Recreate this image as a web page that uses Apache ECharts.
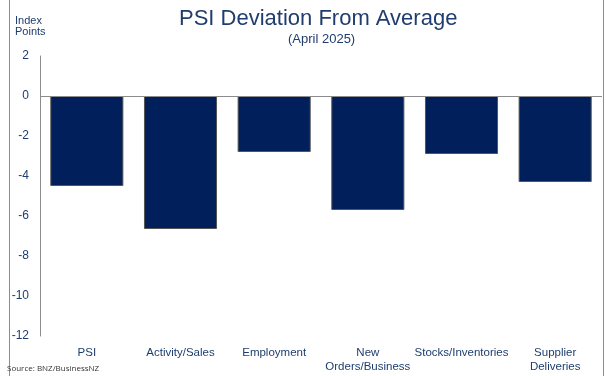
<!DOCTYPE html>
<html>
<head>
<meta charset="utf-8">
<script src="https://cdn.jsdelivr.net/npm/echarts@6/dist/echarts.min.js"></script>
<style>html,body{margin:0;padding:0;background:#fff;}#c{width:606px;height:376px;}</style>
</head>
<body>
<div id="c"></div>
<script>
const categories = ['PSI', 'Activity/Sales', 'Employment', 'New\nOrders/Business', 'Stocks/Inventories', 'Supplier\nDeliveries'];
const deviation = [-4.5, -6.65, -2.8, -5.7, -2.9, -4.3];
const yTicks = { min: -12, max: 2, interval: 2 };
const titleText = 'PSI Deviation From Average';
const subtitleText = '(April 2025)';
const sourceText = 'Source: BNZ/BusinessNZ';

const navy = '#1F3D6E';
const chart = echarts.init(document.getElementById('c'), null, { renderer: 'canvas' });
chart.setOption({
  animation: false,
  backgroundColor: '#fff',
  title: [{
    text: titleText,
    left: 174,
    top: 3,
    textStyle: { fontFamily: 'Liberation Sans', fontSize: 22, fontWeight: 'normal', color: navy }
  }, {
    text: subtitleText,
    left: 283,
    top: 28,
    textStyle: { fontFamily: 'Liberation Sans', fontSize: 13, fontWeight: 'normal', color: navy }
  }],
  grid: { left: 40, right: 4, top: 56, bottom: 40, containLabel: false },
  xAxis: [
    { type: 'category', data: categories, position: 'top', axisLine: { show: false }, axisTick: { show: false }, axisLabel: { show: false } },
    { type: 'category', data: categories, position: 'bottom', axisLine: { show: false }, axisTick: { show: false },
      axisLabel: { fontFamily: 'Liberation Sans', fontSize: 11.5, color: navy, lineHeight: 14, margin: 10, interval: 0 } }
  ],
  yAxis: {
    type: 'value',
    min: yTicks.min, max: yTicks.max, interval: yTicks.interval,
    name: 'Index\nPoints',
    nameLocation: 'end',
    nameGap: 0,
    nameTextStyle: { fontFamily: 'Liberation Sans', fontSize: 11, color: navy, align: 'left', lineHeight: 11, padding: [0, 0, 13, -25] },
    axisLine: { show: true, lineStyle: { color: '#8c8c8c', width: 1 } },
    axisTick: { show: false },
    splitLine: { show: false },
    axisLabel: { fontFamily: 'Liberation Sans', fontSize: 12, color: navy, margin: 11 }
  },
  series: [{
    type: 'bar',
    data: deviation,
    barCategoryGap: '22%',
    itemStyle: { color: '#001F5B', borderColor: '#555', borderWidth: 1 },
    markLine: {
      silent: true,
      symbol: 'none',
      label: { show: false },
      lineStyle: { color: '#8c8c8c', width: 1, type: 'solid' },
      data: [{ yAxis: 0 }]
    }
  }],
  graphic: [
    { type: 'line', shape: { x1: 9.5, y1: 0, x2: 9.5, y2: 376 }, style: { stroke: '#8c8c8c', lineWidth: 1 } },
    { type: 'line', shape: { x1: 603.5, y1: 0, x2: 603.5, y2: 376 }, style: { stroke: '#8c8c8c', lineWidth: 1 } },
    { type: 'text', left: 7, top: 365, style: { text: sourceText, font: '8px "Open Sans"', fill: '#333' } }
  ]
});
</script>
</body>
</html>
